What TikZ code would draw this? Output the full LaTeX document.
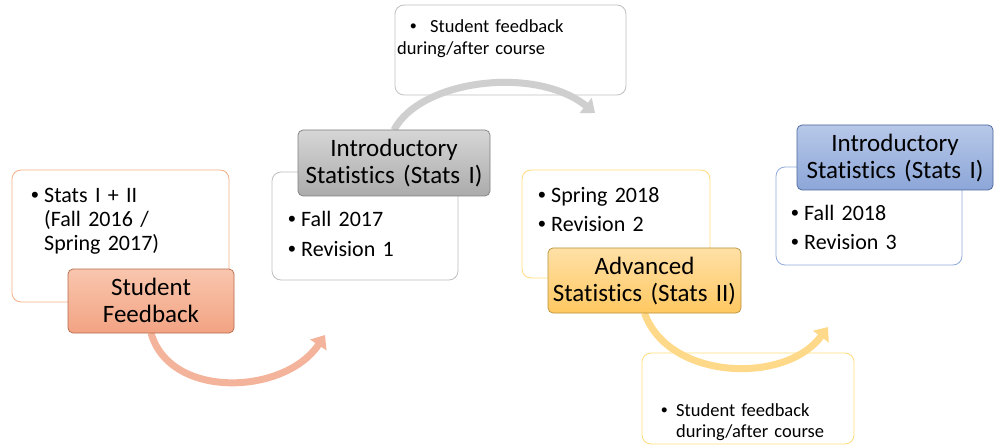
\documentclass[tikz,border=0pt]{standalone}
\usepackage{fontspec}
\setmainfont{Carlito}[Ligatures=NoCommon, WordSpace=0.7]
\newfontfamily\bulletfont{Liberation Sans}
\usetikzlibrary{arrows.meta}
\newcommand{\bul}{\makebox[13pt][l]{\bulletfont •}}
\newcommand{\hang}{\hspace*{13pt}}
\definecolor{orLine}{HTML}{F4B183}
\definecolor{orTop}{HTML}{F9C6AE}
\definecolor{orBot}{HTML}{F2A383}
\definecolor{orEdge}{HTML}{B36A4A}
\definecolor{orArrow}{HTML}{F4B49B}
\definecolor{grLine}{HTML}{C0C0C0}
\definecolor{grTop}{HTML}{D6D6D6}
\definecolor{grBot}{HTML}{ABABAB}
\definecolor{grEdge}{HTML}{7F7F7F}
\definecolor{grArrow}{HTML}{CFCFCF}
\definecolor{ylLine}{HTML}{FFDD7A}
\definecolor{ylTop}{HTML}{FFE0A6}
\definecolor{ylBot}{HTML}{FFC861}
\definecolor{ylEdge}{HTML}{B8913A}
\definecolor{ylArrow}{HTML}{FFD98A}
\definecolor{blLine}{HTML}{8FAADC}
\definecolor{blTop}{HTML}{B7C8E8}
\definecolor{blBot}{HTML}{8CA6D8}
\definecolor{blEdge}{HTML}{4A659A}
\begin{document}
\begin{tikzpicture}[x=1pt,y=-1pt,
  panel/.style={draw, rounded corners=9pt, fill=white, line width=0.8pt, inner sep=0pt},
  titlebox/.style={rounded corners=5pt, line width=0.7pt, inner sep=0pt},
  body/.style={inner sep=0pt, anchor=base west, text width=200pt, align=left,
    font=\fontsize{22}{24}\selectfont},
  small/.style={inner sep=0pt, anchor=base west, text width=220pt, align=left,
    font=\fontsize{18.5}{21.5}\selectfont},
  head/.style={inner sep=0pt, anchor=base, text width=200pt, align=center,
    font=\fontsize{25}{27}\selectfont},
  flow/.style={line width=7pt, -{Triangle[width=19pt,length=12pt]}}
]
\useasboundingbox (0,0) rectangle (995,446);

% outline panels with their bullet lists
\node[panel, draw=orLine, minimum width=217pt, minimum height=132pt] (p1) at (120.5,236) {};
\node[body] (t1) at (31,203) {\bul Stats I + II\\\hang(Fall 2016 /\\\hang Spring 2017)};

\node[panel, draw=grLine, minimum width=186pt, minimum height=108pt] (p2) at (365,226) {};
\node[body] (t2) at (288,227) {\bul Fall 2017\\[5pt]\bul Revision 1};

\node[panel, draw=grLine, minimum width=231pt, minimum height=90pt] (p3) at (510.5,50) {};
\node[small] (t3) at (397,33) {\hspace*{13pt}\makebox[20pt][l]{\bulletfont •}Student feedback\\during/after course};

\node[panel, draw=ylLine, minimum width=188pt, minimum height=108pt] (p4) at (616,224) {};
\node[body] (t4) at (538,203) {\bul Spring 2018\\[5pt]\bul Revision 2};

\node[panel, draw=ylLine, minimum width=212pt, minimum height=91pt] (p5) at (748,398.5) {};
\node[small] (t5) at (661,416) {\makebox[15pt][l]{\bulletfont •}Student feedback\\\hspace*{15pt}during/after course};

\node[panel, draw=blLine, minimum width=186pt, minimum height=98pt] (p6) at (869,216) {};
\node[body] (t6) at (791,221) {\bul Fall 2018\\[5pt]\bul Revision 3};

% curved flow arrows
\coordinate (e1) at (325,335);
\coordinate (e2) at (595,113);
\coordinate (e3) at (828,327);
\draw[flow, draw=orArrow] (151,333) .. controls (170,400) and (285,395) .. (e1);
\draw[flow, draw=grArrow] (394,130) .. controls (420,80) and (535,65) .. (e2);
\draw[flow, draw=ylArrow] (644.5,313) .. controls (668,380) and (785,385) .. (e3);

% stage headings
\node[titlebox, draw=orEdge, top color=orTop, bottom color=orBot,
  minimum width=166pt, minimum height=64pt] (h1) at (151,301) {};
\node[head] (s1) at (151,295) {Student\\Feedback};

\node[titlebox, draw=grEdge, top color=grTop, bottom color=grBot,
  minimum width=192pt, minimum height=66pt] (h2) at (394,163) {};
\node[head] (s2) at (394,157) {Introductory\\Statistics (Stats I)};

\node[titlebox, draw=ylEdge, top color=ylTop, bottom color=ylBot,
  minimum width=193pt, minimum height=65pt] (h3) at (644.5,280.5) {};
\node[head] (s3) at (644.5,274) {Advanced\\Statistics (Stats II)};

\node[titlebox, draw=blEdge, top color=blTop, bottom color=blBot,
  minimum width=196pt, minimum height=65pt] (h4) at (895,157.5) {};
\node[head] (s4) at (895,152) {Introductory\\Statistics (Stats I)};
\end{tikzpicture}
\end{document}
